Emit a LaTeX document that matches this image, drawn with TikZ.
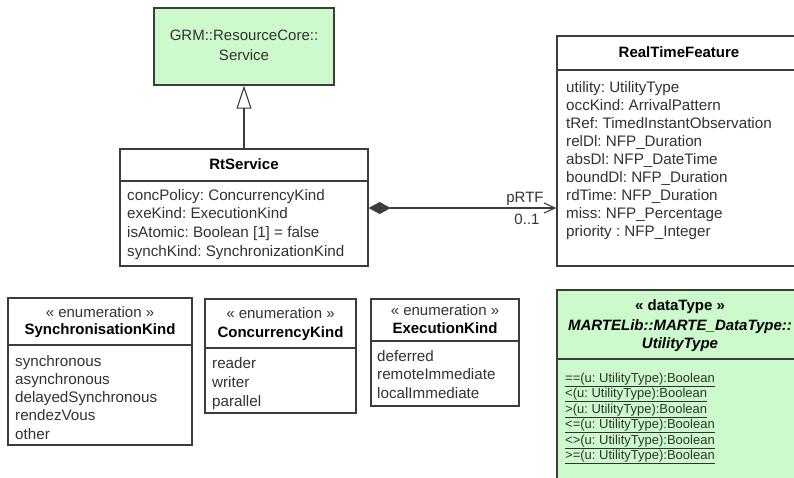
\documentclass[tikz,border=0pt]{standalone}
\usepackage{fontspec}
\setmainfont{Liberation Sans}
\usetikzlibrary{arrows.meta,positioning,fit}
\definecolor{rtgreen}{RGB}{204,250,204}
\definecolor{rtline}{RGB}{60,60,60}
\definecolor{rttext}{RGB}{50,50,50}
\tikzset{
  clsbox/.style={draw=rtline, line width=1.3pt, inner sep=0pt},
  clsline/.style={draw=rtline, line width=1.1pt},
  attr/.style={font=\fontsize{15.2}{18}\selectfont, text=rttext, inner sep=0pt, anchor=base west},
  ttl/.style={font=\fontsize{15}{18}\selectfont\bfseries, text=black, inner sep=0pt, anchor=base},
  stereo/.style={font=\fontsize{15}{18}\selectfont, text=rttext, inner sep=0pt, anchor=base},
  oper/.style={font=\fontsize{13}{15}\selectfont, text=rttext, inner sep=0pt, anchor=base west},
  genln/.style={-{Triangle[open, length=23pt, width=15pt]}, line width=1.1pt, rtline},
  compln/.style={{Diamond[length=22pt, width=12pt]}-{Straight Barb[length=11pt, width=10pt]}, line width=1.1pt, rtline},
}
% box with a title compartment
\newcommand{\classbox}[7]{%
  \node[clsbox, fill=#7, fit={(#2,#3) (#4,#5)}] (#1) {};
  \draw[clsline] (#2,#6) -- (#4,#6);
}
\frenchspacing

\begin{document}
\begin{tikzpicture}[x=1pt, y=-1pt]
  \useasboundingbox (0,0) rectangle (794,477);
  \clip (0,0) rectangle (794,477);

  % parent service
  \node[clsbox, fill=rtgreen, fit={(154,8) (334,85)}] (grm) {};
  \node[stereo] (grm-1) at (244,40) {GRM::ResourceCore::};
  \node[stereo] (grm-2) at (244,60) {Service};

  % RtService
  \classbox{rts}{120}{149}{368}{266}{181}{white}
  \node[ttl] (rts-t) at (244,169) {RtService};
  \foreach \t [count=\i from 0] in {concPolicy: ConcurrencyKind, exeKind: ExecutionKind,
      isAtomic: Boolean [1] = false, synchKind: SynchronizationKind}
    \node[attr] (rts-\i) at (127,200+\i*18.7) {\t};

  % RealTimeFeature
  \classbox{rtf}{557}{36}{802}{266}{70}{white}
  \node[ttl] (rtf-t) at (679,57) {RealTimeFeature};
  \foreach \t [count=\i from 0] in {utility: UtilityType, occKind: ArrivalPattern,
      tRef: TimedInstantObservation, relDl: NFP\_Duration, absDl: NFP\_DateTime,
      boundDl: NFP\_Duration, rdTime: NFP\_Duration, miss: NFP\_Percentage,
      priority : NFP\_Integer}
    \node[attr] (rtf-\i) at (566,92+\i*18.1) {\t};

  % connectors
  \draw[genln] (rts.north) -- (grm.south);
  \coordinate (lnk) at (0,208);
  \draw[compln] (rts.east |- lnk) -- (rtf.west |- lnk);
  \node[stereo] (role) at (525,202) {pRTF};
  \node[stereo] (mult) at (527,224.5) {0..1};

  % enumerations
  \classbox{snk}{8}{298}{192}{445}{345}{white}
  \node[stereo] (snk-s) at (100,317) {« enumeration »};
  \node[ttl] (snk-t) at (100,334) {SynchronisationKind};
  \foreach \t [count=\i from 0] in {synchronous, asynchronous, delayedSynchronous, rendezVous, other}
    \node[attr] (snk-\i) at (15,366+\i*18.3) {\t};

  \classbox{cck}{205}{299}{356}{413}{348}{white}
  \node[stereo] (cck-s) at (280.5,318) {« enumeration »};
  \node[ttl] (cck-t) at (280.5,337) {ConcurrencyKind};
  \foreach \t [count=\i from 0] in {reader, writer, parallel}
    \node[attr] (cck-\i) at (212,368+\i*19) {\t};

  \classbox{exk}{371}{299}{519}{406}{341}{white}
  \node[stereo] (exk-s) at (445,315) {« enumeration »};
  \node[ttl] (exk-t) at (445,333) {ExecutionKind};
  \foreach \t [count=\i from 0] in {deferred, remoteImmediate, localImmediate}
    \node[attr] (exk-\i) at (377,361+\i*18.5) {\t};

  % data type
  \classbox{utl}{557}{290}{803}{490}{359}{rtgreen}
  \node[ttl] (utl-s) at (680,310) {« dataType »};
  \node[ttl, font=\fontsize{15}{18}\selectfont\bfseries\itshape] (utl-p) at (680,330) {MARTELib::MARTE\_DataType::};
  \node[ttl, font=\fontsize{15}{18}\selectfont\bfseries\itshape] (utl-t) at (680,348) {UtilityType};
  \foreach \t [count=\i from 0] in {==, <, >, <=, <>, >=}
    \node[oper] (utl-\i) at (565,382+\i*15.5) {\underline{\t(u: UtilityType):Boolean}};
\end{tikzpicture}
\end{document}
